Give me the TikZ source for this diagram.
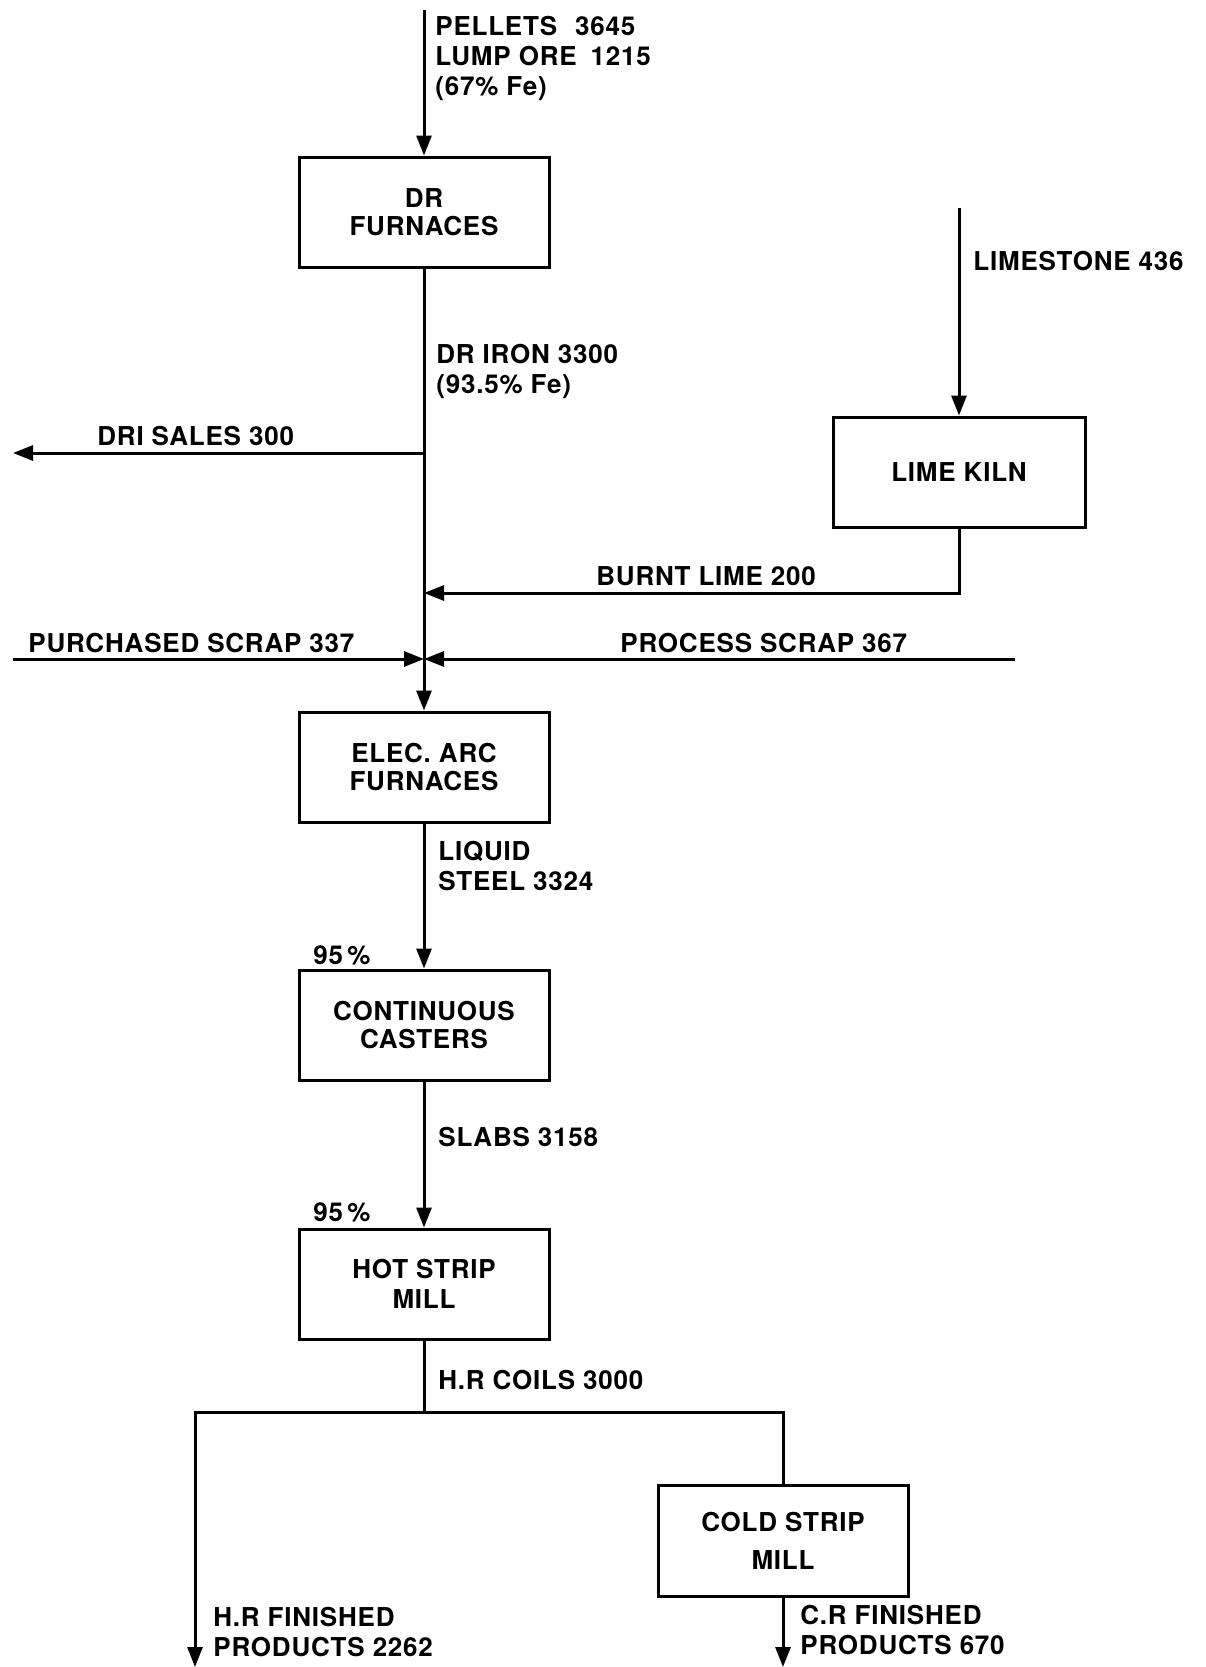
\documentclass[tikz,border=0pt]{standalone}
\usepackage{fontspec}
\setmainfont{TeX Gyre Heros}[LetterSpace=3]
\usetikzlibrary{arrows.meta}
\tikzset{
  flow/.style={line width=1.5pt},
  arr/.style={line width=1.5pt,-{Triangle[length=10pt,width=7.5pt]}},
  box/.style={draw,line width=1.5pt,minimum width=125pt,minimum height=55pt,align=center,
    font=\bfseries\fontsize{13}{14}\selectfont,inner sep=0pt},
  lbl/.style={anchor=west,align=left,inner sep=0pt,font=\bfseries\fontsize{13}{15}\selectfont}
}
\begin{document}
\begin{tikzpicture}[x=0.5pt,y=-0.5pt]
\useasboundingbox (0,0) rectangle (1206,1667);
% boxes
\node[box] (dr) at (424,212) {DR\\FURNACES};
\node[box,minimum width=126pt] (lime) at (959,472) {LIME KILN};
\node[box] (eaf) at (424,767) {ELEC. ARC\\FURNACES};
\node[box] (cc) at (424,1025) {CONTINUOUS\\CASTERS};
\node[box,font=\bfseries\fontsize{13}{15}\selectfont] (hsm) at (424,1284) {HOT STRIP\\MILL};
\node[box,minimum height=55.5pt,font=\bfseries\fontsize{13}{19}\selectfont] (csm) at (783,1541) {COLD STRIP\\MILL};
% coordinates
\coordinate (in) at (424,10);
\coordinate (ls) at (959,208);
\coordinate (dj) at (424,453);
\coordinate (de) at (13,453);
\coordinate (bc) at (959,593);
\coordinate (bt) at (424,593);
\coordinate (sj) at (424,659);
\coordinate (sl) at (13,659);
\coordinate (sr) at (1015,659);
\coordinate (hj) at (424,1412);
\coordinate (hl) at (195,1412);
\coordinate (hr) at (783,1412);
\coordinate (he) at (195,1667);
\coordinate (ce) at (783,1667);
% connectors
\draw[arr] (in) -- (dr.north);
\draw[arr] (ls) -- (lime.north);
\draw[arr] (dr.south) -- (eaf.north);
\draw[arr] (dj) -- (de);
\draw[arr] (lime.south) -- (bc) -- (bt);
\draw[arr] (sl) -- (sj);
\draw[arr] (sr) -- (sj);
\draw[arr] (eaf.south) -- (cc.north);
\draw[arr] (cc.south) -- (hsm.north);
\draw[flow] (hsm.south) -- (hj);
\draw[arr] (hr) -- (hl) -- (he);
\draw[flow] (hj) -- (hr) -- (csm.north);
\draw[arr] (csm.south) -- (ce);
% labels
\node[lbl] (t1) at (435,58) {PELLETS\hspace{5pt} 3645\\LUMP ORE\hspace{3pt} 1215\\(67\% Fe)};
\node[lbl] (t2) at (436,371) {DR IRON 3300\\(93.5\% Fe)};
\node[lbl] (t3) at (973,261) {LIMESTONE 436};
\node[lbl] (t4) at (97,436) {DRI SALES 300};
\node[lbl] (t5) at (596,576) {BURNT LIME 200};
\node[lbl] (t6) at (28,643) {PURCHASED SCRAP 337};
\node[lbl] (t7) at (620,643) {PROCESS SCRAP 367};
\node[lbl] (t8) at (438,866) {LIQUID\\STEEL 3324};
\node[lbl] (t9) at (313,955) {95\,\%};
\node[lbl] (t10) at (438,1137) {SLABS 3158};
\node[lbl] (t11) at (313,1212) {95\,\%};
\node[lbl] (t12) at (438,1380) {H.R COILS 3000};
\node[lbl] (t13) at (213,1632) {H.R FINISHED\\PRODUCTS 2262};
\node[lbl] (t14) at (800,1630) {C.R FINISHED\\PRODUCTS 670};
\end{tikzpicture}
\end{document}
